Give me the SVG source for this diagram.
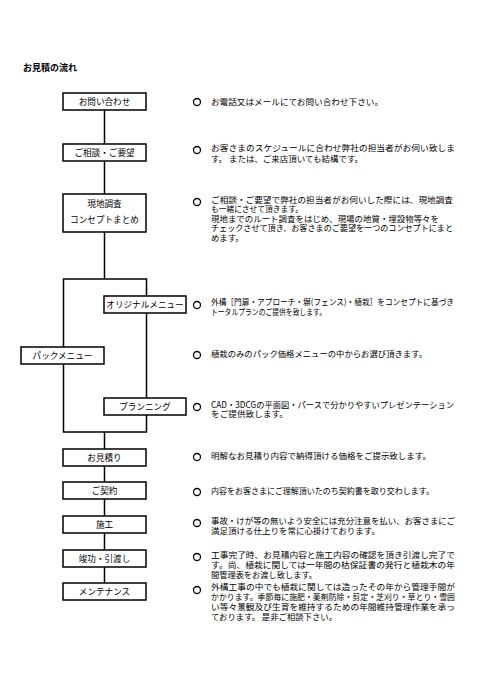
<svg xmlns="http://www.w3.org/2000/svg" width="498" height="700" viewBox="0 0 498 700">
<style>
text{font-family:"Noto Sans CJK JP","Noto Sans",sans-serif;font-size:8.6px;fill:#000}
.box{fill:#fff;stroke:#000;stroke-width:1.5}
.lbl{text-anchor:middle}
.ln{stroke:#000;stroke-width:1.5;fill:none}
.dot{fill:#fff;stroke:#000;stroke-width:1.3}
.title{font-weight:bold;font-size:9px}
#notes text{font-size:8.4px}
</style>
<rect width="498" height="700" fill="#fff"/>
<text class="title" x="23" y="71">お見積の流れ</text>
<g id="connectors">
<line class="ln" x1="104.5" y1="110" x2="104.5" y2="279"/>
<rect class="ln" x="63.5" y="279" width="83" height="153"/>
<line class="ln" x1="104.5" y1="432" x2="104.5" y2="583"/>
</g>
<g id="n1"><rect class="box" x="63" y="93" width="83" height="17"/><text class="lbl" x="104.5" y="104.5">お問い合わせ</text></g>
<g id="n2"><rect class="box" x="63" y="144" width="83" height="17"/><text class="lbl" x="104.5" y="155.5">ご相談・ご要望</text></g>
<g id="n3"><rect class="box" x="63" y="194" width="83" height="38"/><text class="lbl" x="104.5" y="207">現地調査</text><text class="lbl" x="104.5" y="223">コンセプトまとめ</text></g>
<g id="n4"><rect class="box" x="104" y="296" width="82" height="17"/><text class="lbl" x="145" y="307.5">オリジナルメニュー</text></g>
<g id="n5"><rect class="box" x="21" y="347" width="83" height="17"/><text class="lbl" x="62.5" y="358.5">パックメニュー</text></g>
<g id="n6"><rect class="box" x="104" y="398" width="82" height="17"/><text class="lbl" x="145" y="409.5">プランニング</text></g>
<g id="n7"><rect class="box" x="63" y="449" width="83" height="17"/><text class="lbl" x="104.5" y="460.5">お見積り</text></g>
<g id="n8"><rect class="box" x="63" y="482" width="83" height="17"/><text class="lbl" x="104.5" y="493.5">ご契約</text></g>
<g id="n9"><rect class="box" x="63" y="516" width="83" height="17"/><text class="lbl" x="104.5" y="527.5">施工</text></g>
<g id="n10"><rect class="box" x="63" y="550" width="83" height="17"/><text class="lbl" x="104.5" y="561.5">竣功・引渡し</text></g>
<g id="n11"><rect class="box" x="63" y="583" width="83" height="17"/><text class="lbl" x="104.5" y="594.5">メンテナンス</text></g>
<g id="notes">
<circle class="dot" cx="197" cy="102" r="3.5"/>
<text x="211" y="104.5" textLength="172" lengthAdjust="spacingAndGlyphs">お電話又はメールにてお問い合わせ下さい。</text>
<circle class="dot" cx="197" cy="150" r="3.5"/>
<text x="211" y="151" textLength="244" lengthAdjust="spacingAndGlyphs">お客さまのスケジュールに合わせ弊社の担当者がお伺い致しま</text>
<text x="211" y="161.5" textLength="152" lengthAdjust="spacingAndGlyphs">す。 または、ご来店頂いても結構です。</text>
<circle class="dot" cx="197" cy="202" r="3.5"/>
<text x="211" y="202.5" textLength="242" lengthAdjust="spacingAndGlyphs">ご相談・ご要望で弊社の担当者がお伺いした際には、現地調査</text>
<text x="211" y="212" textLength="92" lengthAdjust="spacingAndGlyphs">も一緒にさせて頂きます。</text>
<text x="211" y="221.5" textLength="228" lengthAdjust="spacingAndGlyphs">現地までのルート調査をはじめ、現場の地質・埋設物等々を</text>
<text x="211" y="231" textLength="242" lengthAdjust="spacingAndGlyphs">チェックさせて頂き、お客さまのご要望を一つのコンセプトにまと</text>
<text x="211" y="240.5">めます。</text>
<circle class="dot" cx="197" cy="305" r="3.5"/>
<text x="211" y="305" textLength="243" lengthAdjust="spacingAndGlyphs">外構［門扉・アプローチ・塀(フェンス)・植栽］をコンセプトに基づき</text>
<text x="211" y="314.5" textLength="115" lengthAdjust="spacingAndGlyphs">トータルプランのご提供を致します。</text>
<circle class="dot" cx="197" cy="355" r="3.5"/>
<text x="211" y="357" textLength="216" lengthAdjust="spacingAndGlyphs">植栽のみのパック価格メニューの中からお選び頂きます。</text>
<circle class="dot" cx="197" cy="407" r="3.5"/>
<text x="211" y="407.5" textLength="243" lengthAdjust="spacingAndGlyphs">CAD・3DCGの平面図・パースで分かりやすいプレゼンテーション</text>
<text x="211" y="417" textLength="77" lengthAdjust="spacingAndGlyphs">をご提供致します。</text>
<circle class="dot" cx="197" cy="457" r="3.5"/>
<text x="211" y="459" textLength="220" lengthAdjust="spacingAndGlyphs">明解なお見積り内容で納得頂ける価格をご提示致します。</text>
<circle class="dot" cx="197" cy="492" r="3.5"/>
<text x="211" y="494" textLength="223" lengthAdjust="spacingAndGlyphs">内容をお客さまにご理解頂いたのち契約書を取り交わします。</text>
<circle class="dot" cx="197" cy="523" r="3.5"/>
<text x="211" y="523.5" textLength="244" lengthAdjust="spacingAndGlyphs">事故・けが等の無いよう安全には充分注意を払い、お客さまにご</text>
<text x="211" y="534" textLength="169" lengthAdjust="spacingAndGlyphs">満足頂ける仕上りを常に心掛けております。</text>
<circle class="dot" cx="197" cy="557" r="3.5"/>
<text x="211" y="557.5" textLength="244" lengthAdjust="spacingAndGlyphs">工事完了時、お見積内容と施工内容の確認を頂き引渡し完了で</text>
<text x="211" y="567.5" textLength="244" lengthAdjust="spacingAndGlyphs">す。尚、植栽に関しては一年間の枯保証書の発行と植栽木の年</text>
<text x="211" y="578" textLength="106" lengthAdjust="spacingAndGlyphs">間管理表をお渡し致します。</text>
<circle class="dot" cx="197" cy="590" r="3.5"/>
<text x="211" y="589.5" textLength="244" lengthAdjust="spacingAndGlyphs">外構工事の中でも植栽に関しては造ったその年から管理手間が</text>
<text x="211" y="599.5" textLength="244" lengthAdjust="spacingAndGlyphs">かかります。季節毎に施肥・薬剤防除・剪定・芝刈り・草とり・雪囲</text>
<text x="211" y="609.5" textLength="244" lengthAdjust="spacingAndGlyphs">い等々景観及び生育を維持するための年間維持管理作業を承っ</text>
<text x="211" y="619.5" textLength="126" lengthAdjust="spacingAndGlyphs">ております。 是非ご相談下さい。</text>
</g>
</svg>
